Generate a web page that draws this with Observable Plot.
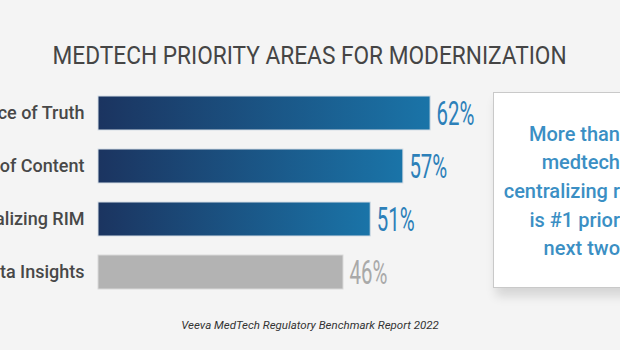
<!DOCTYPE html>
<html><head><meta charset="utf-8">
<script src="https://cdn.jsdelivr.net/npm/d3@7"></script>
<script src="https://cdn.jsdelivr.net/npm/@observablehq/plot@0.6"></script>
<style>
html,body{margin:0;padding:0;}
body{width:620px;height:350px;overflow:hidden;background:#f4f4f4;position:relative;font-family:Roboto,"Open Sans",sans-serif;}
#title{position:absolute;top:40px;left:0;width:620px;height:30px;line-height:30px;text-align:center;}
#title span{display:inline-block;font-size:26.5px;color:#454545;white-space:nowrap;transform-origin:center center;}
#chart{position:absolute;top:85px;left:0;}
#chart svg{background:transparent;}
#chart g[aria-label="y-axis tick label"] text{font-weight:500;}
#callout{position:absolute;left:493px;top:92px;width:200px;height:194px;background:#fff;border:1px solid #c9c9c9;box-shadow:3px 8px 10px rgba(0,0,0,0.13);}
#callout .lines{position:absolute;top:26.6px;left:0;width:126px;text-align:right;color:#3b8fc4;font-size:20px;font-weight:500;line-height:28.7px;white-space:nowrap;}
#footer{position:absolute;top:317px;left:0;width:620px;line-height:16px;text-align:center;font-style:italic;font-size:11.5px;color:#333;}
</style>
</head><body>
<div id="title"><span></span></div>
<div id="chart"></div>
<div id="callout"><div class="lines"></div></div>
<div id="footer"></div>
<script>
const titleText = "MEDTECH PRIORITY AREAS FOR MODERNIZATION";
const categories = ["ce of Truth", "of Content", "alizing RIM", "ta Insights"];
const values = [62, 57, 51, 46];
const highlight = [true, true, true, false];
const calloutLines = ["More than", "medtech", "centralizing r", "is #1 prior", "next two"];
const footerText = "Veeva MedTech Regulatory Benchmark Report 2022";

const data = categories.map((c, i) => ({category: c, value: values[i], highlight: highlight[i]}));

const gradientDefs = () => {
  const defs = d3.create("svg:defs");
  const g = defs.append("linearGradient").attr("id", "barGrad").attr("x1", 0).attr("x2", 1).attr("y1", 0).attr("y2", 0);
  g.append("stop").attr("offset", "0%").attr("stop-color", "#1b3460");
  g.append("stop").attr("offset", "100%").attr("stop-color", "#1a74a8");
  return defs.node();
};

const chart = Plot.plot({
  width: 620,
  height: 215,
  marginTop: 0,
  marginBottom: 0,
  marginRight: 0,
  marginLeft: 98,
  style: {background: "transparent", fontFamily: "Roboto, sans-serif", color: "#484848"},
  x: {domain: [1, 100], range: [98, 637], clamp: true, axis: null},
  y: {domain: categories, paddingInner: 0.36, paddingOuter: 0.18},
  marks: [
    gradientDefs,
    Plot.axisY({tickSize: 0, tickPadding: 14, fontSize: 18, label: null}),
    Plot.barX(data.filter(d => d.highlight), {x: "value", y: "category", fill: "url(#barGrad)", stroke: "#d5dde5", strokeWidth: 1}),
    Plot.barX(data.filter(d => !d.highlight), {x: "value", y: "category", fill: "#b3b3b3", stroke: "#d9d9d9", strokeWidth: 1}),
    Plot.text(data, {x: "value", y: "category", text: d => d.value + "%", textAnchor: "start", dx: 6, dy: 1,
      fontSize: 34, fontWeight: 400, fill: d => d.highlight ? "#2c80b9" : "#a9a9a9"})
  ]
});
document.getElementById("chart").appendChild(chart);

// condense value labels
chart.querySelectorAll('g[aria-label="text"] text').forEach(t => {
  const w = t.getComputedTextLength();
  t.setAttribute("textLength", w * 0.6);
  t.setAttribute("lengthAdjust", "spacingAndGlyphs");
});

const ts = document.querySelector("#title span");
ts.textContent = titleText;
ts.style.transform = `scaleX(${514 / ts.offsetWidth})`;

document.querySelector("#callout .lines").innerHTML = calloutLines.map(l => `<div>${l}</div>`).join("");
document.getElementById("footer").textContent = footerText;
</script>
</body></html>
